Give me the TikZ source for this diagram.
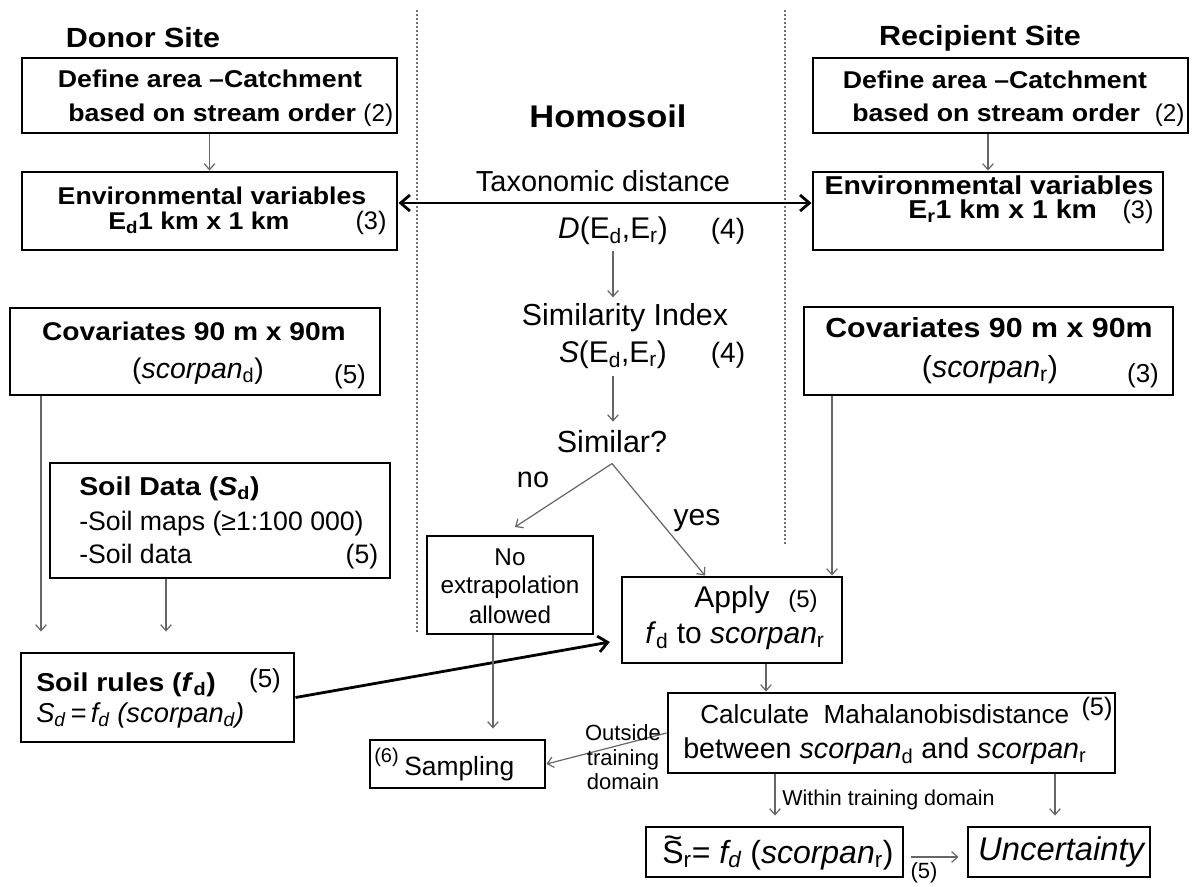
\documentclass[tikz,border=0pt]{standalone}
\usepackage{fontspec}
\setmainfont{Liberation Sans}[BoldFeatures={FakeStretch=1.1},BoldItalicFeatures={FakeStretch=1.1}]
\usetikzlibrary{arrows.meta,fit}
\newcommand{\fsz}[1]{\fontsize{#1pt}{#1pt}\selectfont}
\newcommand{\tildeS}{\ooalign{S\cr\hidewidth\raisebox{0.45em}{\textasciitilde}\hidewidth\cr}}
\tikzset{
  box/.style={draw=black, line width=2.2pt, inner sep=0pt, fit={#1}},
  tx/.style={anchor=base, inner sep=0pt, text=black},
  txl/.style={anchor=base west, inner sep=0pt, text=black},
  arr/.style={draw=black!60, line width=0.9pt, >={Straight Barb[length=4.5pt,width=8pt]}, ->},
  bigarr/.style={draw=black, line width=2.1pt, >={Straight Barb[length=7pt,width=12pt]}},
  sepline/.style={draw=black!55, line width=0.8pt, dash pattern=on 1.5pt off 1.5pt},
}
\begin{document}
\begin{tikzpicture}[x=0.75pt,y=-0.75pt]
\useasboundingbox (0,0) rectangle (1195,886);
\fill[white] (0,0) rectangle (1195,886);

% separators
\draw[sepline] (417,10) -- (417,633);
\draw[sepline] (785,10) -- (785,545);

% ---------------- Donor site
\node[tx, font=\bfseries\fsz{20.8}] (donor) at (143,47) {Donor Site};
\node[box={(22,58)(397,133)}] (d1) {};
\node[tx, font=\bfseries\fsz{18.2}] (d1a) at (210,87) {Define area –Catchment};
\node[txl, font=\bfseries\fsz{18.2}] (d1b) at (68,121) {based on stream order \mdseries(2)};
\node[box={(22,172)(397,250)}] (d2) {};
\node[tx, font=\bfseries\fsz{18.2}] (d2a) at (212,204) {Environmental variables};
\node[txl, font=\bfseries\fsz{18.2}] (d2b) at (108,229) {E\textsubscript{d}1 km x 1 km};
\node[tx, font=\fsz{19}] (d2c) at (371,229) {(3)};
\draw[arr] (d1.south) -- (d2.north);

\node[box={(10,308)(380,395)}] (cd) {};
\node[tx, font=\bfseries\fsz{19.2}] (cda) at (194,340) {Covariates 90 m x 90m};
\node[tx, font=\fsz{21.3}] (cdb) at (198,378) {(\textit{scorpan}\textsubscript{d})};
\node[tx, font=\fsz{19.5}] (cdc) at (350,383) {(5)};

\node[box={(50,463)(390,578)}] (sd) {};
\node[txl, font=\bfseries\fsz{19.4}] (sda) at (79,495) {Soil Data (\textit{S}\textsubscript{d})};
\node[txl, font=\fsz{20}] (sdb) at (79,530) {-Soil maps (≥1:100 000)};
\node[txl, font=\fsz{20}] (sdc) at (79,563) {-Soil data};
\node[tx, font=\fsz{20}] (sdd) at (362,563) {(5)};

\node[box={(21,653)(294,742)}] (sr) {};
\node[txl, font=\bfseries\fsz{19.4}] (sra) at (36,691) {Soil rules (\textit{f}\textsubscript{d})};
\node[tx, font=\fsz{19.5}] (srb) at (265,687) {(5)};
\node[txl, font=\fsz{20.5}] (src) at (36,722) {\textit{S\textsubscript{d}\,=\,f\textsubscript{d} (scorpan\textsubscript{d})}};

\coordinate (xa) at (41,0);
\coordinate (xb) at (166,0);
\draw[arr, shorten >=15pt] (cd.south -| xa) -- (sr.north -| xa);
\draw[arr, shorten >=15pt] (sd.south -| xb) -- (sr.north -| xb);

% ---------------- Recipient site
\node[tx, font=\bfseries\fsz{20.8}] (recip) at (980,45) {Recipient Site};
\node[box={(813,58)(1188,133)}] (r1) {};
\node[tx, font=\bfseries\fsz{18.2}] (r1a) at (995,88) {Define area –Catchment};
\node[txl, font=\bfseries\fsz{18.2}] (r1b) at (852,121) {based on stream order\ \ \mdseries(2)};
\node[box={(813,172)(1163,250)}] (r2) {};
\node[tx, font=\bfseries\fsz{19.4}] (r2a) at (989,194) {Environmental variables};
\node[txl, font=\bfseries\fsz{19.4}] (r2b) at (908,218) {E\textsubscript{r}1 km x 1 km};
\node[tx, font=\fsz{19}] (r2c) at (1138,218) {(3)};
\draw[arr] (r1.south -| r2.north) -- (r2.north);

\node[box={(804,307)(1173,395)}] (cr) {};
\node[tx, font=\bfseries\fsz{20.7}] (cra) at (989,337) {Covariates 90 m x 90m};
\node[tx, font=\fsz{22.8}] (crb) at (990,377) {(\textit{scorpan}\textsubscript{r})};
\node[tx, font=\fsz{19.5}] (crc) at (1143,382) {(3)};

% ---------------- Homosoil
\node[tx, font=\bfseries\fsz{23.5}] (homo) at (608,127) {Homosoil};
\node[tx, font=\fsz{21.7}] (tax) at (603,191) {Taxonomic distance};
\coordinate (ty) at (600,203);
\draw[bigarr, <->] (d2.east |- ty) -- (r2.west |- ty);
\node[tx, font=\fsz{22.4}] (dd) at (613,238) {\textit{D}(E\textsubscript{d},E\textsubscript{r})};
\node[tx, font=\fsz{21}] (dd4) at (728,238) {(4)};
\node[tx, font=\fsz{22.8}] (sim) at (625,325) {Similarity Index};
\draw[arr, shorten <=5pt, shorten >=4pt] (dd.south) -- (dd.south |- sim.north);
\node[tx, font=\fsz{22.4}] (ss) at (613,362) {\textit{S}(E\textsubscript{d},E\textsubscript{r})};
\node[tx, font=\fsz{21}] (ss4) at (728,362) {(4)};
\node[tx, font=\fsz{22.9}] (simq) at (612,452) {Similar?};
\draw[arr, shorten <=6pt, shorten >=6pt] (ss.south) -- (ss.south |- simq.north);

\node[tx, font=\fsz{21.6}] (no) at (533,487) {no};
\node[tx, font=\fsz{22.5}] (yes) at (697,525) {yes};

\node[box={(427,536)(593,634)}] (ne) {};
\node[tx, font=\fsz{18.2}] (nea) at (510,565) {No};
\node[tx, font=\fsz{18.2}] (neb) at (510,593) {extrapolation};
\node[tx, font=\fsz{18.2}] (nec) at (510,623) {allowed};

\node[box={(622,577)(842,663)}] (ap) {};
\node[tx, font=\fsz{22.5}] (apa) at (732,607) {Apply};
\node[tx, font=\fsz{18}] (ap5) at (803,607) {(5)};
\node[txl, font=\fsz{22.5}] (apb) at (645,643) {\textit{f}\textsubscript{d} to \textit{scorpan}\textsubscript{r}};

\coordinate (br) at ([yshift=-8.25pt]simq.south);
\coordinate (noend) at (515,527);
\coordinate (xy) at (705,0);
\draw[arr] (br) -- (noend);
\draw[arr] (br) -- (ap.north -| xy);

\coordinate (xc) at (832,0);
\draw[arr] (cr.south -| xc) -- (ap.north -| xc);
\draw[bigarr, ->] (sr.east) -- ([xshift=-8pt,yshift=-16.5pt]ap.west);

% ---------------- Bottom
\node[box={(370,740)(545,788)}] (sa) {};
\node[txl, font=\fsz{15}] (sa6) at (374,762) {(6)};
\node[txl, font=\fsz{19.8}] (saa) at (404,775) {Sampling};
\coordinate (xd) at (493,0);
\draw[arr, shorten >=7.5pt] (ne.south -| xd) -- (sa.north -| xd);

\node[box={(668,693)(1115,773)}] (mh) {};
\node[txl, font=\fsz{19.6}] (mha) at (700,723) {Calculate\ \ Mahalanobisdistance};
\node[tx, font=\fsz{19}] (mh5) at (1097,715) {(5)};
\node[txl, font=\fsz{21.5}] (mhb) at (683,758) {between \textit{scorpan}\textsubscript{d} and \textit{scorpan}\textsubscript{r}};
\coordinate (xe) at (766,0);
\draw[arr] (ap.south -| xe) -- (mh.north -| xe);
\draw[arr] (mh.west) -- (sa.east);
\node[tx, font=\fsz{16.5}] (o1) at (623,740) {Outside};
\node[tx, font=\fsz{16.5}] (o2) at (623,765) {training};
\node[tx, font=\fsz{16.5}] (o3) at (623,789) {domain};

\node[box={(646,827)(903,877)}] (st) {};
\node[tx, font=\fsz{24}] (sta) at (778,863) {\tildeS\textsubscript{r}= \textit{f\textsubscript{d}} (\textit{scorpan}\textsubscript{r})};
\node[box={(968,827)(1150,877)}] (un) {};
\node[tx, font=\fsz{24.6}] (una) at (1062,860) {\textit{Uncertainty}};

\coordinate (xf) at (775,0);
\coordinate (xg) at (1055,0);
\draw[arr, shorten >=7.5pt] (mh.south -| xf) -- (st.north -| xf);
\draw[arr, shorten >=7.5pt] (mh.south -| xg) -- (un.north -| xg);
\node[txl, font=\fsz{16.1}] (wt) at (782,805) {Within training domain};

\draw[arr, shorten <=5pt, shorten >=6pt] ([yshift=-3.75pt]st.east) -- ([yshift=-3.75pt]un.west);
\node[tx, font=\fsz{16.5}] (u5) at (924,878) {(5)};
\end{tikzpicture}
\end{document}
